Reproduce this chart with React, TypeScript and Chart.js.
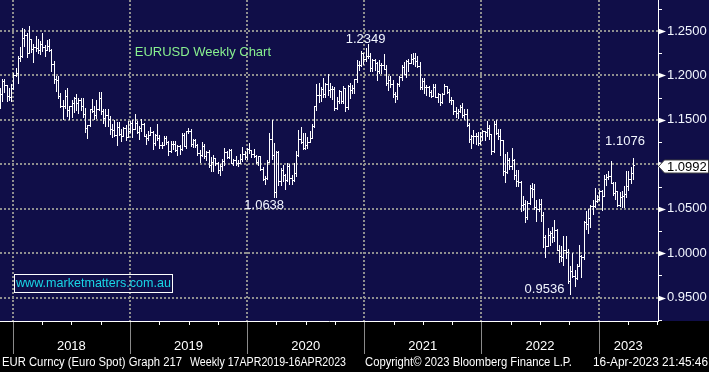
import React, { useEffect, useRef } from 'react';
import { Chart, registerables } from 'chart.js';

Chart.register(...registerables);

const FONT = "'Liberation Sans', Arial, sans-serif";
const NAVY = '#100e48';
const GRID = '#8f8f8f';

// Weekly bars, first one = week of 13-Nov-2017, plotted one step (7 days) apart
const FIRST_BAR_UTC = Date.UTC(2017, 10, 23);
const FIRST_OPEN = 1.1665;
const LAST_PRICE = 1.0992;

const weeklyHigh = [
  1.1862, 1.1965, 1.1961, 1.1887, 1.1863, 1.1903, 1.2023,
  1.2089, 1.2219, 1.2323, 1.2537, 1.2522, 1.2472, 1.2556, 1.2414, 1.2355, 1.2446, 1.2414, 1.2388, 1.2477, 1.2339, 1.2397, 1.2414, 1.2299, 1.2157, 1.1996, 1.1996, 1.1798, 1.1723, 1.1840, 1.1853, 1.1659, 1.1720, 1.1760, 1.1791, 1.1746, 1.1750, 1.1747, 1.1638, 1.1445, 1.1623, 1.1734, 1.1653, 1.1722, 1.1815, 1.1815, 1.1625, 1.1622, 1.1621, 1.1545, 1.1456, 1.1500, 1.1473, 1.1472, 1.1401, 1.1423, 1.1442, 1.1486, 1.1486,
  1.1497, 1.1570, 1.1488, 1.1435, 1.1514, 1.1469, 1.1342, 1.1372, 1.1420, 1.1374, 1.1339, 1.1448, 1.1325, 1.1255, 1.1324, 1.1323, 1.1265, 1.1265, 1.1264, 1.1265, 1.1215, 1.1218, 1.1348, 1.1348, 1.1380, 1.1412, 1.1393, 1.1286, 1.1285, 1.1228, 1.1163, 1.1250, 1.1231, 1.1153, 1.1164, 1.1085, 1.1109, 1.1076, 1.1030, 1.0999, 1.1064, 1.1179, 1.1153, 1.1176, 1.1176, 1.1058, 1.1097, 1.1046, 1.1116, 1.1200, 1.1146, 1.1188, 1.1239,
  1.1163, 1.1173, 1.1100, 1.1096, 1.1095, 1.0965, 1.0866, 1.1054, 1.1355, 1.1496, 1.1236, 1.1147, 1.1148, 1.0953, 1.0990, 1.0888, 1.1019, 1.1000, 1.0875, 1.1009, 1.1147, 1.1384, 1.1422, 1.1349, 1.1349, 1.1303, 1.1375, 1.1452, 1.1660, 1.1908, 1.1916, 1.1865, 1.1966, 1.1910, 1.2011, 1.1917, 1.1882, 1.1872, 1.1754, 1.1831, 1.1828, 1.1881, 1.1861, 1.1891, 1.1920, 1.1894, 1.1964, 1.2177, 1.2167, 1.2273, 1.2251, 1.2310,
  1.2349, 1.2250, 1.2190, 1.2190, 1.2150, 1.2170, 1.2144, 1.2243, 1.2113, 1.1990, 1.1989, 1.1944, 1.1810, 1.1915, 1.1994, 1.2117, 1.2150, 1.2172, 1.2182, 1.2245, 1.2255, 1.2255, 1.2218, 1.2146, 1.1975, 1.1975, 1.1895, 1.1880, 1.1835, 1.1909, 1.1900, 1.1805, 1.1795, 1.1807, 1.1909, 1.1883, 1.1846, 1.1752, 1.1727, 1.1640, 1.1624, 1.1669, 1.1692, 1.1617, 1.1617, 1.1464, 1.1325, 1.1383, 1.1355, 1.1360, 1.1360, 1.1386,
  1.1370, 1.1482, 1.1438, 1.1345, 1.1483, 1.1495, 1.1395, 1.1395, 1.1275, 1.1121, 1.1137, 1.1070, 1.1185, 1.1055, 1.0935, 1.0936, 1.0810, 1.0642, 1.0598, 1.0590, 1.0765, 1.0787, 1.0774, 1.0601, 1.0614, 1.0615, 1.0465, 1.0205, 1.0278, 1.0255, 1.0294, 1.0368, 1.0276, 1.0090, 1.0079, 1.0198, 1.0198, 1.0051, 0.9854, 0.9999, 0.9809, 0.9875, 1.0093, 0.9976, 1.0364, 1.0480, 1.0497, 1.0545, 1.0595, 1.0737, 1.0660, 1.0714,
  1.0713, 1.0874, 1.0887, 1.0930, 1.1033, 1.0805, 1.0805, 1.0705, 1.0691, 1.0700, 1.0760, 1.0930, 1.0925, 1.0973, 1.1076,
];

const weeklyLow = [
  1.1630, 1.1715, 1.1812, 1.1717, 1.1729, 1.1717, 1.1850,
  1.1998, 1.1916, 1.2165, 1.2209, 1.2336, 1.2207, 1.2260, 1.2259, 1.2154, 1.2272, 1.2256, 1.2239, 1.2280, 1.2215, 1.2282, 1.2277, 1.2055, 1.1910, 1.1823, 1.1750, 1.1647, 1.1510, 1.1637, 1.1541, 1.1508, 1.1527, 1.1591, 1.1612, 1.1575, 1.1616, 1.1529, 1.1365, 1.1301, 1.1432, 1.1586, 1.1511, 1.1526, 1.1614, 1.1570, 1.1460, 1.1431, 1.1433, 1.1336, 1.1302, 1.1313, 1.1216, 1.1330, 1.1267, 1.1318, 1.1269, 1.1303, 1.1360,
  1.1309, 1.1395, 1.1354, 1.1289, 1.1379, 1.1323, 1.1234, 1.1276, 1.1330, 1.1176, 1.1221, 1.1272, 1.1184, 1.1183, 1.1214, 1.1225, 1.1110, 1.1135, 1.1167, 1.1155, 1.1106, 1.1116, 1.1166, 1.1204, 1.1181, 1.1351, 1.1206, 1.1193, 1.1200, 1.1101, 1.1027, 1.1090, 1.1066, 1.1052, 1.0964, 1.0926, 1.0927, 1.0990, 1.0904, 1.0879, 1.0940, 1.0990, 1.1073, 1.1072, 1.1013, 1.0989, 1.0989, 1.0981, 1.1010, 1.1040, 1.1065, 1.1065, 1.1125,
  1.1086, 1.1086, 1.1017, 1.0992, 1.0940, 1.0827, 1.0778, 1.0840, 1.1053, 1.1055, 1.0636, 1.0637, 1.0768, 1.0768, 1.0812, 1.0727, 1.0812, 1.0782, 1.0775, 1.0813, 1.0870, 1.1096, 1.1242, 1.1168, 1.1167, 1.1185, 1.1253, 1.1300, 1.1422, 1.1613, 1.1696, 1.1711, 1.1752, 1.1762, 1.1780, 1.1753, 1.1737, 1.1612, 1.1625, 1.1688, 1.1689, 1.1689, 1.1603, 1.1622, 1.1745, 1.1800, 1.1801, 1.1924, 1.2058, 1.2108, 1.2129, 1.2168,
  1.2192, 1.2055, 1.2054, 1.2059, 1.1952, 1.2024, 1.2023, 1.2070, 1.1893, 1.1835, 1.1873, 1.1762, 1.1704, 1.1740, 1.1878, 1.1950, 1.2018, 1.1986, 1.2052, 1.2135, 1.2132, 1.2104, 1.2092, 1.1847, 1.1847, 1.1807, 1.1780, 1.1772, 1.1752, 1.1770, 1.1758, 1.1706, 1.1664, 1.1690, 1.1795, 1.1802, 1.1700, 1.1683, 1.1563, 1.1529, 1.1523, 1.1587, 1.1535, 1.1513, 1.1432, 1.1250, 1.1186, 1.1236, 1.1228, 1.1222, 1.1230, 1.1278,
  1.1272, 1.1315, 1.1290, 1.1121, 1.1140, 1.1340, 1.1280, 1.1106, 1.0876, 1.0806, 1.0901, 1.0945, 1.0945, 1.0838, 1.0757, 1.0760, 1.0472, 1.0490, 1.0350, 1.0390, 1.0557, 1.0627, 1.0500, 1.0359, 1.0470, 1.0366, 1.0072, 0.9952, 1.0080, 1.0097, 1.0123, 1.0140, 1.0033, 0.9900, 0.9910, 0.9864, 0.9944, 0.9666, 0.9536, 0.9735, 0.9632, 0.9706, 0.9863, 0.9730, 0.9936, 1.0272, 1.0222, 1.0291, 1.0444, 1.0525, 1.0573, 1.0600,
  1.0483, 1.0645, 1.0766, 1.0835, 1.0795, 1.0655, 1.0613, 1.0533, 1.0533, 1.0516, 1.0516, 1.0635, 1.0715, 1.0788, 1.0831,
];

const weeklyClose = [
  1.1790, 1.1933, 1.1896, 1.1770, 1.1752, 1.1861, 1.2005,
  1.2030, 1.2200, 1.2221, 1.2426, 1.2459, 1.2252, 1.2408, 1.2294, 1.2317, 1.2307, 1.2286, 1.2354, 1.2322, 1.2282, 1.2330, 1.2287, 1.2129, 1.1960, 1.1944, 1.1765, 1.1653, 1.1659, 1.1768, 1.1610, 1.1655, 1.1685, 1.1745, 1.1686, 1.1720, 1.1657, 1.1568, 1.1410, 1.1439, 1.1622, 1.1602, 1.1554, 1.1625, 1.1749, 1.1604, 1.1525, 1.1560, 1.1510, 1.1402, 1.1389, 1.1335, 1.1415, 1.1339, 1.1315, 1.1405, 1.1305, 1.1370, 1.1466,
  1.1395, 1.1468, 1.1364, 1.1409, 1.1457, 1.1324, 1.1295, 1.1335, 1.1365, 1.1235, 1.1325, 1.1301, 1.1217, 1.1216, 1.1300, 1.1246, 1.1150, 1.1232, 1.1234, 1.1158, 1.1205, 1.1169, 1.1334, 1.1208, 1.1370, 1.1370, 1.1225, 1.1270, 1.1220, 1.1126, 1.1108, 1.1201, 1.1091, 1.1144, 1.0989, 1.1027, 1.1074, 1.1017, 1.0940, 1.0979, 1.1040, 1.1143, 1.1081, 1.1165, 1.1019, 1.1051, 1.1020, 1.1017, 1.1060, 1.1121, 1.1080, 1.1175, 1.1160,
  1.1121, 1.1091, 1.1026, 1.1093, 1.0944, 1.0831, 1.0846, 1.1025, 1.1285, 1.1106, 1.0692, 1.1142, 1.0808, 1.0936, 1.0876, 1.0821, 1.0983, 1.0841, 1.0819, 1.0905, 1.1102, 1.1290, 1.1255, 1.1178, 1.1219, 1.1246, 1.1300, 1.1428, 1.1655, 1.1778, 1.1784, 1.1842, 1.1795, 1.1903, 1.1838, 1.1845, 1.1843, 1.1632, 1.1715, 1.1826, 1.1717, 1.1860, 1.1646, 1.1876, 1.1834, 1.1857, 1.1962, 1.2120, 1.2114, 1.2256, 1.2186, 1.2217,
  1.2222, 1.2082, 1.2170, 1.2136, 1.2046, 1.2118, 1.2120, 1.2075, 1.1915, 1.1953, 1.1903, 1.1795, 1.1763, 1.1900, 1.1980, 1.2096, 1.2020, 1.2165, 1.2144, 1.2180, 1.2193, 1.2167, 1.2104, 1.1865, 1.1935, 1.1866, 1.1875, 1.1810, 1.1771, 1.1870, 1.1762, 1.1795, 1.1698, 1.1795, 1.1880, 1.1815, 1.1725, 1.1719, 1.1595, 1.1573, 1.1601, 1.1645, 1.1559, 1.1566, 1.1446, 1.1290, 1.1318, 1.1315, 1.1315, 1.1240, 1.1320, 1.1370,
  1.1360, 1.1410, 1.1345, 1.1145, 1.1455, 1.1349, 1.1320, 1.1270, 1.0930, 1.0912, 1.1050, 1.0985, 1.1045, 1.0875, 1.0810, 1.0797, 1.0545, 1.0550, 1.0410, 1.0560, 1.0735, 1.0720, 1.0520, 1.0495, 1.0555, 1.0430, 1.0185, 1.0080, 1.0210, 1.0225, 1.0180, 1.0260, 1.0040, 0.9965, 0.9955, 1.0040, 1.0015, 0.9690, 0.9800, 0.9740, 0.9720, 0.9860, 0.9965, 0.9960, 1.0355, 1.0325, 1.0400, 1.0535, 1.0530, 1.0585, 1.0615, 1.0705,
  1.0645, 1.0830, 1.0855, 1.0870, 1.0795, 1.0680, 1.0695, 1.0545, 1.0635, 1.0640, 1.0670, 1.0760, 1.0840, 1.0905, 1.0992,
];

// Axis ranges (value units: price, and fractional calendar year)
const Y_MIN = 0.92367;
const Y_MAX = 1.28488;
const Y_STEP = 0.05;
const X_MIN = 2017.8907;
const X_MAX = 2023.5079;
const YEARS = [2018, 2019, 2020, 2021, 2022, 2023];

const annotations = [
  { text: 'EURUSD Weekly Chart', x: 2019.041, y: 1.2264, align: 'left', color: '#88f08f' },
  { text: '1.2349', x: 2021.012, y: 1.2410, align: 'center', color: '#f2f6ff' },
  { text: '1.0638', x: 2020.146, y: 1.0542, align: 'center', color: '#f2f6ff' },
  { text: '0.9536', x: 2022.539, y: 0.9597, align: 'center', color: '#f2f6ff' },
  { text: '1.1076', x: 2023.226, y: 1.1257, align: 'center', color: '#f2f6ff' },
];

const footerParts = [
  { text: 'EUR Curncy (Euro Spot) Graph 217', x: 2, w: 180 },
  { text: 'Weekly 17APR2019-16APR2023', x: 190, w: 156 },
  { text: 'Copyright\u00a9 2023 Bloomberg Finance L.P.', x: 365, w: 207 },
  { text: '16-Apr-2023 21:45:46', x: 593, w: 115 },
];

function yearFraction(ms: number) {
  const d = new Date(ms);
  const y = d.getUTCFullYear();
  const s = Date.UTC(y, 0, 1);
  const e = Date.UTC(y + 1, 0, 1);
  return y + (ms - s) / (e - s);
}

const N = Math.min(weeklyHigh.length, weeklyLow.length, weeklyClose.length);
const opens: number[] = [];
const bars: { x: number; y: [number, number] }[] = [];
for (let i = 0; i < N; i++) {
  const o = i === 0 ? FIRST_OPEN : weeklyClose[i - 1];
  const c = weeklyClose[i];
  opens.push(o);
  const hi = Math.max(weeklyHigh[i], o, c);
  const lo = Math.min(weeklyLow[i], o, c);
  bars.push({ x: yearFraction(FIRST_BAR_UTC + i * 7 * 86400000), y: [lo, hi] });
}

const yearLabelPos = YEARS.map((y) => (Math.max(y, X_MIN) + Math.min(y + 1, X_MAX)) / 2);

const bgPlugin = {
  id: 'bg',
  beforeDraw(chart: any) {
    const { ctx, chartArea } = chart;
    ctx.save();
    ctx.fillStyle = '#000';
    ctx.fillRect(0, 0, chart.width, chart.height);
    ctx.fillStyle = NAVY;
    ctx.fillRect(0, 0, chart.width, chartArea.bottom);
    ctx.restore();
  },
  beforeDatasetsDraw(chart: any) {
    const { ctx, chartArea } = chart;
    const xs = chart.scales.x;
    ctx.save();
    // dotted year separators in the plot
    ctx.strokeStyle = GRID;
    ctx.lineWidth = 2;
    ctx.setLineDash([2, 2]);
    YEARS.forEach((y) => {
      const px = Math.round(xs.getPixelForValue(y));
      if (px < chartArea.left || px > chartArea.right) return;
      ctx.beginPath();
      ctx.moveTo(px, chartArea.top);
      ctx.lineTo(px, chartArea.bottom);
      ctx.stroke();
    });
    ctx.setLineDash([]);
    // year separators below the axis
    ctx.lineWidth = 1;
    ctx.strokeStyle = '#8a8a8a';
    YEARS.forEach((y) => {
      const px = Math.round(xs.getPixelForValue(y)) + 0.5;
      ctx.beginPath();
      ctx.moveTo(px, chartArea.bottom + 1);
      ctx.lineTo(px, chartArea.bottom + 33);
      ctx.stroke();
    });
    // quarter ticks
    ctx.strokeStyle = '#ffffff';
    YEARS.forEach((y) => {
      [0.25, 0.5, 0.75].forEach((q) => {
        const v = y + q;
        if (v <= X_MIN || v >= X_MAX) return;
        const px = Math.round(xs.getPixelForValue(v)) + 0.5;
        ctx.beginPath();
        ctx.moveTo(px, chartArea.bottom + 1);
        ctx.lineTo(px, chartArea.bottom + 4);
        ctx.stroke();
      });
    });
    ctx.restore();
  },
};

const ohlcPlugin = {
  id: 'ohlc',
  beforeDatasetDraw(chart: any, args: any) {
    if (args.index !== 0) return;
    const { ctx, chartArea } = chart;
    const ys = chart.scales.y;
    const meta = args.meta;
    ctx.save();
    ctx.beginPath();
    ctx.rect(chartArea.left, chartArea.top, chartArea.right - chartArea.left, chartArea.bottom - chartArea.top);
    ctx.clip();
    ctx.fillStyle = '#ffffff';
    meta.data.forEach((el: any, i: number) => {
      const x = Math.floor(el.x);
      const yTop = Math.round(Math.min(el.y, el.base));
      const yBot = Math.round(Math.max(el.y, el.base));
      ctx.fillRect(x, yTop, 1, Math.max(1, yBot - yTop + 1));
      const yo = Math.round(ys.getPixelForValue(opens[i]));
      const yc = Math.round(ys.getPixelForValue(weeklyClose[i]));
      ctx.fillRect(x - 1, yo, 1, 1);
      ctx.fillRect(x + 1, yc, 1, 1);
    });
    ctx.restore();
    return false;
  },
};

const overlayPlugin = {
  id: 'overlay',
  afterDraw(chart: any) {
    const { ctx, chartArea } = chart;
    const xs = chart.scales.x;
    const ys = chart.scales.y;
    const axisX = chartArea.right;
    ctx.save();
    // minor ticks on the price axis
    ctx.strokeStyle = '#ffffff';
    ctx.lineWidth = 1;
    for (let v = Math.ceil(Y_MIN / Y_STEP) * Y_STEP - Y_STEP / 2; v < Y_MAX; v += Y_STEP) {
      const py = Math.round(ys.getPixelForValue(v)) + 0.5;
      if (py < chartArea.top || py > chartArea.bottom) continue;
      ctx.beginPath();
      ctx.moveTo(axisX, py);
      ctx.lineTo(axisX + 4, py);
      ctx.stroke();
    }
    // arrows at the labelled ticks
    ctx.fillStyle = '#ffffff';
    ys.ticks.forEach((t: any) => {
      const py = Math.round(ys.getPixelForValue(t.value)) + 0.5;
      ctx.beginPath();
      ctx.moveTo(axisX, py - 3);
      ctx.lineTo(axisX + 8, py);
      ctx.lineTo(axisX, py + 3);
      ctx.closePath();
      ctx.fill();
    });
    // annotations
    ctx.textBaseline = 'middle';
    ctx.font = `13px ${FONT}`;
    annotations.forEach((a) => {
      ctx.fillStyle = a.color;
      ctx.textAlign = a.align as CanvasTextAlign;
      ctx.fillText(a.text, xs.getPixelForValue(a.x), ys.getPixelForValue(a.y));
    });
    // website box
    ctx.textAlign = 'left';
    ctx.strokeStyle = '#ffffff';
    ctx.lineWidth = 1;
    ctx.strokeRect(14.5, 274.5, 158, 18);
    ctx.fillStyle = '#19d6e6';
    ctx.font = `12.6px ${FONT}`;
    ctx.fillText('www.marketmatters.com.au', 16, 284, 155);
    // last price box
    const py = Math.round(ys.getPixelForValue(LAST_PRICE)) + 1.5;
    ctx.beginPath();
    ctx.moveTo(axisX + 0.5, py);
    ctx.lineTo(axisX + 6.5, py - 6.5);
    ctx.lineTo(chart.width - 0.5, py - 6.5);
    ctx.lineTo(chart.width - 0.5, py + 6.5);
    ctx.lineTo(axisX + 6.5, py + 6.5);
    ctx.closePath();
    ctx.fillStyle = '#ffffff';
    ctx.fill();
    ctx.strokeStyle = '#404040';
    ctx.stroke();
    ctx.fillStyle = '#000000';
    ctx.font = `13px ${FONT}`;
    ctx.fillText(LAST_PRICE.toFixed(4), axisX + 9, py + 0.5);
    // footer
    ctx.fillStyle = '#ffffff';
    ctx.font = `12px ${FONT}`;
    footerParts.forEach((f) => ctx.fillText(f.text, f.x, 363, f.w));
    ctx.restore();
  },
};

function zeroPad(s: any) {
  s.paddingTop = 0;
  s.paddingBottom = 0;
  s.paddingLeft = 0;
  s.paddingRight = 0;
}

export default function App() {
  const ref = useRef<HTMLCanvasElement>(null);
  useEffect(() => {
    document.body.style.margin = '0';
    document.body.style.background = '#000';
    const chart = new Chart(ref.current as HTMLCanvasElement, {
      type: 'bar',
      data: {
        datasets: [
          {
            label: 'EURUSD',
            data: bars as any,
            backgroundColor: '#ffffff',
            barThickness: 1,
          },
        ],
      },
      options: {
        animation: false,
        responsive: false,
        devicePixelRatio: 1,
        layout: { padding: 0 },
        plugins: { legend: { display: false }, tooltip: { enabled: false }, title: { display: false } },
        scales: {
          x: {
            type: 'linear',
            min: X_MIN,
            max: X_MAX,
            offset: false,
            grid: { display: false, drawTicks: false, offset: false },
            border: { display: true, color: '#ffffff', width: 1 },
            afterBuildTicks: (s: any) => {
              s.ticks = yearLabelPos.map((v) => ({ value: v }));
            },
            afterFit: (s: any) => {
              s.height = 51;
              zeroPad(s);
            },
            ticks: {
              autoSkip: false,
              maxRotation: 0,
              minRotation: 0,
              padding: 18,
              color: '#ffffff',
              font: { family: FONT, size: 13 },
              callback: (v: any) => String(Math.floor(Number(v) + 1e-9)),
            },
          },
          y: {
            type: 'linear',
            position: 'right',
            min: Y_MIN,
            max: Y_MAX,
            grid: { color: GRID, lineWidth: 2, drawTicks: false },
            border: { display: true, color: '#ffffff', width: 1, dash: [2, 2] },
            afterFit: (s: any) => {
              s.width = 51;
              zeroPad(s);
            },
            ticks: {
              stepSize: Y_STEP,
              includeBounds: false,
              padding: 9,
              color: '#f2f6ff',
              font: { family: FONT, size: 13 },
              callback: (v: any) => (Math.abs(Number(v) - LAST_PRICE) < 0.02 ? '' : Number(v).toFixed(4)),
            },
          },
        },
      },
      plugins: [bgPlugin, ohlcPlugin, overlayPlugin],
    } as any);
    return () => chart.destroy();
  }, []);
  return (
    <div style={{ position: 'absolute', left: 0, top: 0, width: 709, height: 372, background: '#000' }}>
      <canvas ref={ref} width={709} height={372} style={{ display: 'block', width: 709, height: 372 }} />
    </div>
  );
}
